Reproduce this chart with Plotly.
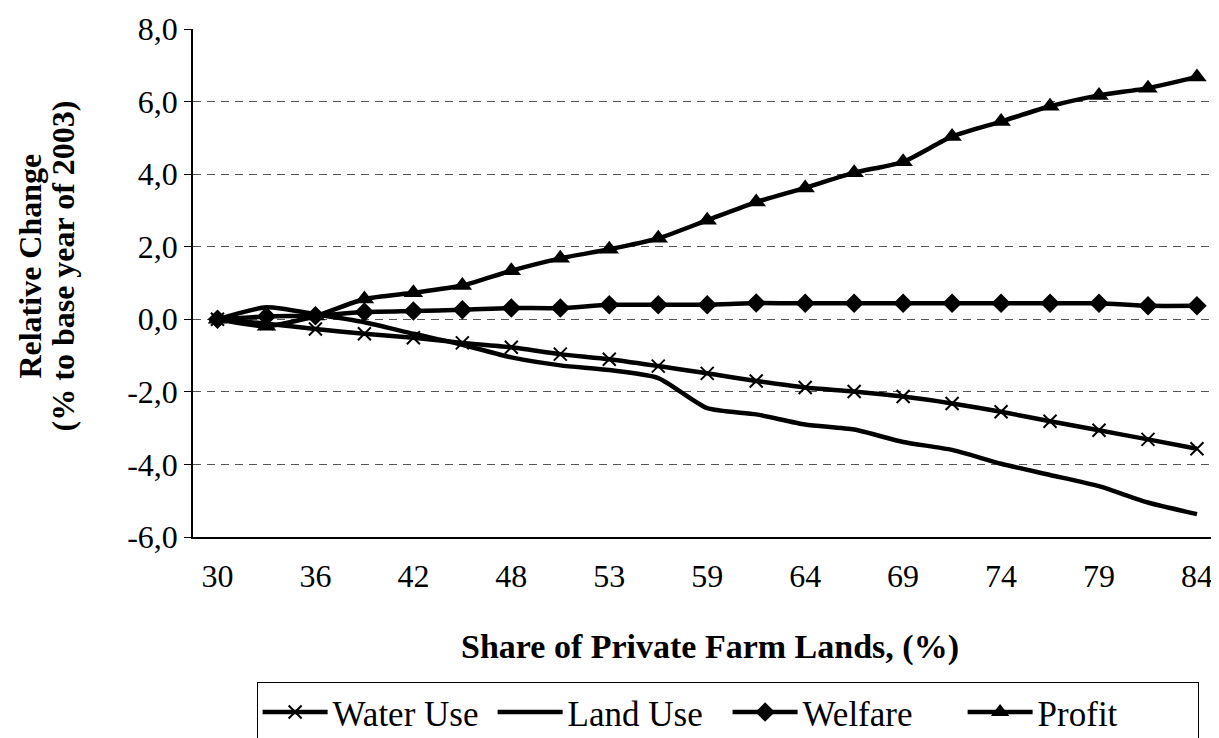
import plotly.graph_objects as go

# Category positions (21 points); labels shown on every second point
x_index = list(range(21))
tick_positions = [0, 2, 4, 6, 8, 10, 12, 14, 16, 18, 20]
tick_labels = ["30", "36", "42", "48", "53", "59", "64", "69", "74", "79", "84"]
y_ticks = [-6, -4, -2, 0, 2, 4, 6, 8]
y_tick_labels = ["-6,0", "-4,0", "-2,0", "0,0", "2,0", "4,0", "6,0", "8,0"]

water_use = [0.0, -0.12, -0.27, -0.40, -0.51, -0.65, -0.77, -0.96, -1.10, -1.29, -1.49,
             -1.70, -1.88, -1.99, -2.13, -2.32, -2.55, -2.81, -3.06, -3.31, -3.57]
land_use = [0.0, 0.33, 0.14, -0.08, -0.40, -0.70, -1.05, -1.27, -1.40, -1.62, -2.45,
            -2.62, -2.90, -3.04, -3.38, -3.60, -3.98, -4.29, -4.60, -5.05, -5.37]
welfare = [0.0, 0.08, 0.10, 0.20, 0.23, 0.26, 0.31, 0.31, 0.40, 0.40, 0.40,
           0.45, 0.44, 0.44, 0.44, 0.44, 0.44, 0.44, 0.44, 0.37, 0.37]
profit = [0.0, -0.19, 0.09, 0.56, 0.73, 0.93, 1.34, 1.68, 1.93, 2.23, 2.73,
          3.23, 3.62, 4.04, 4.34, 5.04, 5.45, 5.87, 6.17, 6.37, 6.68]

FONT = "Liberation Serif"

fig = go.Figure()
line = dict(color="black", width=4.5, shape="spline", smoothing=0.6)
fig.add_trace(go.Scatter(x=x_index, y=water_use, name="Water Use", mode="lines+markers",
                         line=line,
                         marker=dict(symbol="x-thin", size=13, color="black",
                                     line=dict(color="black", width=2))))
fig.add_trace(go.Scatter(x=x_index, y=land_use, name="Land Use", mode="lines", line=line))
fig.add_trace(go.Scatter(x=x_index, y=welfare, name="Welfare", mode="lines+markers",
                         line=line, marker=dict(symbol="diamond", size=15, color="black")))
fig.add_trace(go.Scatter(x=x_index, y=profit, name="Profit", mode="lines+markers",
                         line=line, marker=dict(symbol="triangle-up", size=17, color="black")))

fig.update_layout(
    width=1219, height=738,
    margin=dict(l=185, r=8, t=21, b=209, autoexpand=False),
    paper_bgcolor="white", plot_bgcolor="white",
    font=dict(family=FONT, size=32, color="black"),
    showlegend=True,
    legend=dict(orientation="h", x=0.062, y=-0.285, xanchor="left", yanchor="top",
                bordercolor="black", borderwidth=1, font=dict(family=FONT, size=35),
                itemwidth=65, entrywidth=155, entrywidthmode="pixels",
                valign="top", traceorder="normal"),
    xaxis=dict(range=[-0.5, 20.45], tickmode="array", tickvals=tick_positions,
               ticktext=tick_labels, showgrid=False, zeroline=False,
               showline=True, linecolor="black", linewidth=1.5, ticks="",
               ticklabelstandoff=10, tickfont=dict(family=FONT, size=32)),
    yaxis=dict(range=[-6, 8], tickmode="array", tickvals=y_ticks, ticktext=y_tick_labels,
               showgrid=True, gridcolor="#555555", gridwidth=1, griddash="8px,6px",
               zeroline=False, showline=True, linecolor="black", linewidth=1.5,
               ticks="outside", ticklen=7, tickcolor="black",
               tickfont=dict(family=FONT, size=32)),
    annotations=[
        dict(text="<b>Share of Private Farm Lands, (%)</b>", xref="paper", yref="paper",
             x=0.504, y=-0.216, xanchor="center", yanchor="middle", showarrow=False,
             font=dict(family=FONT, size=34)),
        dict(text="<b>Relative Change</b>", xref="paper",
             yref="paper", x=-0.159, y=0.534, xanchor="center", yanchor="middle",
             textangle=-90, showarrow=False, font=dict(family=FONT, size=32)),
        dict(text="<b>(% to base year of 2003)</b>", xref="paper",
             yref="paper", x=-0.127, y=0.534, xanchor="center", yanchor="middle",
             textangle=-90, showarrow=False, font=dict(family=FONT, size=32)),
    ],
)

fig.write_html("out.html")
